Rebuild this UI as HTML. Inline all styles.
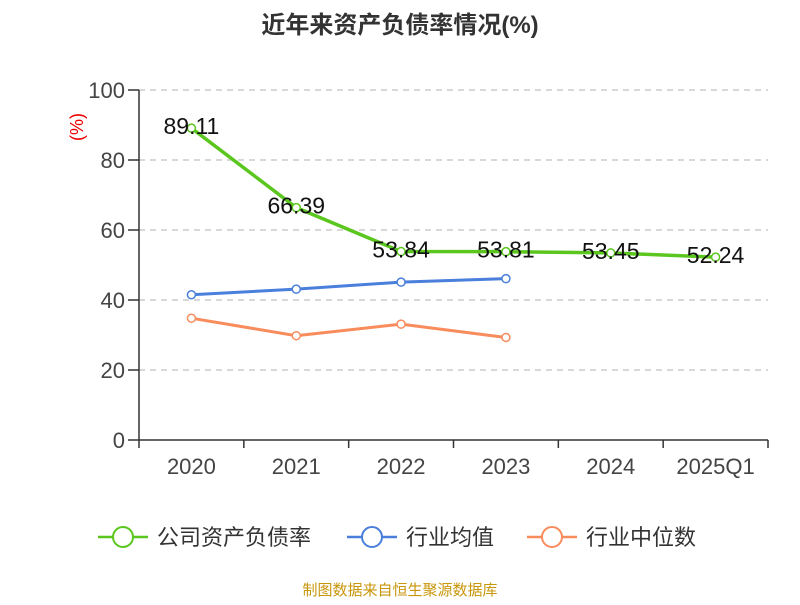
<!DOCTYPE html>
<html><head><meta charset="utf-8"><style>
body{margin:0;background:#fff;width:800px;height:600px;overflow:hidden;font-family:"Liberation Sans","Noto Sans CJK SC",sans-serif}
</style></head><body>
<svg id="c" width="800" height="600" xmlns="http://www.w3.org/2000/svg">
<text x="400" y="33" text-anchor="middle" font-size="24" font-weight="bold" fill="#333" font-family="Liberation Sans,Noto Sans CJK SC,sans-serif">近年来资产负债率情况(%)</text>
<text x="0" y="0" transform="translate(83,127) rotate(-90)" text-anchor="middle" font-size="18" fill="#e00" font-family="Liberation Sans,Noto Sans CJK SC,sans-serif">(%)</text>
<g id="grid"></g><g id="axes"></g><g id="series"></g><g id="legend"></g>
<text x="400" y="595" text-anchor="middle" font-size="15" fill="#c8960a" font-family="Liberation Sans,Noto Sans CJK SC,sans-serif">制图数据来自恒生聚源数据库</text>
</svg>
<script>
const categories=["2020","2021","2022","2023","2024","2025Q1"];
const debtRatio=[89.11,66.39,53.84,53.81,53.45,52.24];
const industryAvg=[41.5,43.1,45.1,46.1];
const industryMedian=[34.8,29.8,33.1,29.3];
const yTicks=[0,20,40,60,80,100];
const NS="http://www.w3.org/2000/svg";
const x0=139,x1=768,y0=440,y1=90;
const bw=(x1-x0)/categories.length;
const xs=i=>x0+bw*(i+0.5);
const ys=v=>y0-(v/100)*(y0-y1);
function mk(t,a,p){const e=document.createElementNS(NS,t);for(const k in a)e.setAttribute(k,a[k]);p.appendChild(e);return e;}
const grid=document.getElementById('grid'),axes=document.getElementById('axes'),ser=document.getElementById('series'),leg=document.getElementById('legend');
yTicks.forEach(v=>{
 if(v>0){const g=mk('line',{x1:x0,x2:x1,y1:ys(v),y2:ys(v),stroke:'#ccc','stroke-dasharray':'6,5','stroke-width':1.5},grid);
 
 }
 const tk=mk('line',{x1:x0-11,x2:x0,y1:ys(v),y2:ys(v),stroke:'#333','stroke-width':1.5},axes);
 
 
 const t=mk('text',{x:x0-14,y:ys(v)+8,'text-anchor':'end','font-size':22,fill:'#444'},axes);t.textContent=v;
 
 
});
const ya=mk('line',{x1:x0,x2:x0,y1:y1,y2:y0,stroke:'#333','stroke-width':1.5},axes);


const xa=mk('line',{x1:x0,x2:x1,y1:y0,y2:y0,stroke:'#333','stroke-width':1.5},axes);


for(let i=0;i<=categories.length;i++){const l=mk('line',{x1:x0+bw*i,x2:x0+bw*i,y1:y0,y2:y0+8,stroke:'#333','stroke-width':1.5},axes);
 
 }
categories.forEach((c,i)=>{const t=mk('text',{x:xs(i),y:y0+34,'text-anchor':'middle','font-size':22,fill:'#444'},axes);t.textContent=c;
 
 });
function series(vals,color,w,name,labels){
 const p=mk('polyline',{points:vals.map((v,i)=>xs(i)+','+ys(v)).join(' '),fill:'none',stroke:color,'stroke-width':w},ser);
 
 
 vals.forEach((v,i)=>{const c=mk('circle',{cx:xs(i),cy:ys(v),r:4,fill:'#fff',stroke:color,'stroke-width':1.5},ser);
  
  
  if(labels){const t=mk('text',{x:xs(i),y:ys(v)+6,'text-anchor':'middle','font-size':23,fill:'#111'},ser);t.textContent=v.toFixed(2);
   
   }
 });
}
series(industryAvg,'#4a7fdc',3,'industry-avg',false);
series(industryMedian,'#f98c5c',3,'industry-median',false);
series(debtRatio,'#5ac61e',3.5,'debt-ratio',true);
[['公司资产负债率','#5ac61e',98],['行业均值','#4a7fdc',347],['行业中位数','#f98c5c',527]].forEach((d,i)=>{
 const g=mk('g',{},leg);
 
 
 mk('line',{x1:d[2],x2:d[2]+50,y1:537,y2:537,stroke:d[1],'stroke-width':2.5},g);
 mk('circle',{cx:d[2]+25,cy:537,r:10,fill:'#fff',stroke:d[1],'stroke-width':2},g);
 const t=mk('text',{x:d[2]+59,y:545,'font-size':22,fill:'#333'},g);t.textContent=d[0];
});
</script>
</body></html>
